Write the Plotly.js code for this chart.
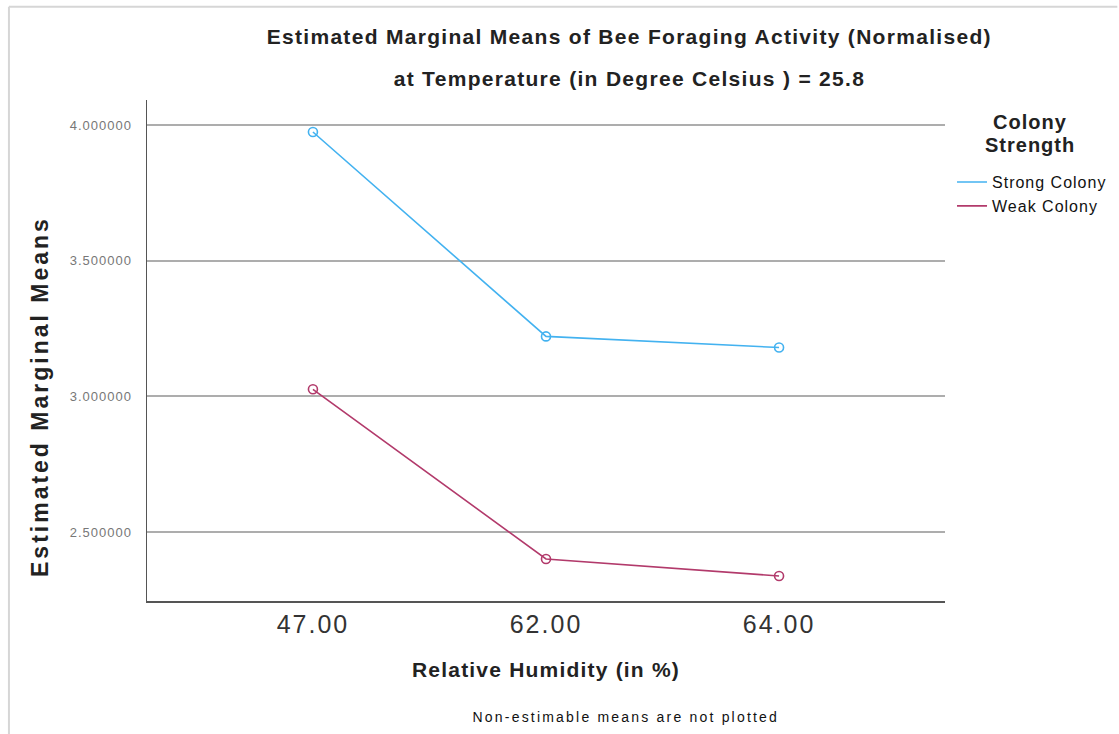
<!DOCTYPE html>
<html>
<head>
<meta charset="utf-8">
<script src="https://cdn.plot.ly/plotly-3.0.1.min.js"></script>
<style>
html,body{margin:0;padding:0;background:#fff;}
#chart{width:1119px;height:734px;}
.annotation[data-index="0"] text, .annotation[data-index="1"] text {letter-spacing:1.3px;}
.annotation[data-index="2"] text, .annotation[data-index="3"] text {letter-spacing:1px;}
.annotation[data-index="4"] text {letter-spacing:2.2px;}
.annotation[data-index="5"] text {letter-spacing:3px;}
text.xtitle {letter-spacing:1.2px;}
g.xtick text {letter-spacing:2px;}
g.ytick text {letter-spacing:1px;}
text.legendtext {letter-spacing:1px;}
</style>
</head>
<body>
<div id="chart"></div>
<script>
const humidity = ["47.00", "62.00", "64.00"];
const strongColony = [3.974, 3.221, 3.180];
const weakColony = [3.026, 2.401, 2.338];
const seriesNames = ["Strong Colony", "Weak Colony"];
const seriesColors = ["#43b2f0", "#b23a6b"];
const yTicks = [2.5, 3.0, 3.5, 4.0];
const yTickLabels = ["2.500000", "3.000000", "3.500000", "4.000000"];

const F = "Arial, 'Liberation Sans', sans-serif";
const seriesValues = [strongColony, weakColony];

const traces = [];
seriesValues.forEach((vals, i) => {
  traces.push({x: humidity, y: vals, name: seriesNames[i], type: "scatter", mode: "lines",
    line: {color: seriesColors[i], width: 1.6}, showlegend: true, legendrank: i + 1});
});
seriesValues.forEach((vals, i) => {
  traces.push({x: humidity, y: vals, name: seriesNames[i], type: "scatter", mode: "markers",
    marker: {symbol: "circle-open", size: 9, color: seriesColors[i], line: {width: 1.6}},
    showlegend: false});
});

const layout = {
  width: 1119, height: 734,
  margin: {l: 147, r: 174, t: 100, b: 133, autoexpand: false},
  paper_bgcolor: "#fff", plot_bgcolor: "#fff",
  showlegend: true,
  font: {family: F, color: "#222"},
  xaxis: {
    type: "category", range: [-0.712, 2.712],
    showgrid: false, zeroline: false, automargin: false,
    showline: true, linecolor: "#555", linewidth: 1.5,
    ticks: "", tickfont: {size: 25, color: "#333", family: F},
    title: {text: "<b>Relative Humidity (in %)</b>", font: {size: 21, color: "#222", family: F}, standoff: 26}
  },
  yaxis: {
    range: [2.246, 4.092], automargin: false,
    tickvals: yTicks, ticktext: yTickLabels,
    showgrid: true, gridcolor: "#adadad", gridwidth: 1.8,
    zeroline: false, showline: true, linecolor: "#555", linewidth: 1.5,
    ticks: "", ticklen: 0, ticklabelstandoff: 11,
    tickfont: {size: 13, color: "#777", family: F}
  },
  legend: {
    x: 1.0088, y: 0.870, xanchor: "left", yanchor: "top",
    font: {size: 16, color: "#111", family: F},
    bgcolor: "rgba(0,0,0,0)", tracegroupgap: 0, itemwidth: 30
  },
  annotations: [
    {text: "<b>Estimated Marginal Means of Bee Foraging Activity (Normalised)</b>", xref: "paper", yref: "paper",
     x: 0.605, y: 1, yshift: 100 - 36, xanchor: "center", yanchor: "middle", showarrow: false,
     font: {size: 21, color: "#222", family: F}},
    {text: "<b>at Temperature (in Degree Celsius ) = 25.8</b>", xref: "paper", yref: "paper",
     x: 0.605, y: 1, yshift: 100 - 78, xanchor: "center", yanchor: "middle", showarrow: false,
     font: {size: 21, color: "#222", family: F}},
    {text: "<b>Colony</b>", xref: "paper", yref: "paper",
     x: 1.107, y: 1, yshift: 100 - 122, xanchor: "center", yanchor: "middle", showarrow: false,
     font: {size: 20, color: "#222", family: F}},
    {text: "<b>Strength</b>", xref: "paper", yref: "paper",
     x: 1.107, y: 1, yshift: 100 - 145, xanchor: "center", yanchor: "middle", showarrow: false,
     font: {size: 20, color: "#222", family: F}},
    {text: "Non-estimable means are not plotted", xref: "paper", yref: "paper",
     x: 0.6, y: 0, yshift: -(717 - 601), xanchor: "center", yanchor: "middle", showarrow: false,
     font: {size: 14, color: "#111", family: F}},
    {text: "<b>Estimated Marginal Means</b>", xref: "paper", yref: "paper", textangle: -90,
     x: 0, xshift: -(147 - 40), y: (601 - 397) / 501, xanchor: "center", yanchor: "middle", showarrow: false,
     font: {size: 23, color: "#222", family: F}}
  ],
  shapes: [
    {type: "line", xref: "paper", yref: "paper", x0: -0.173, x1: 1.216, y0: 1.186, y1: 1.186,
     line: {color: "#d6d6d6", width: 2}},
    {type: "line", xref: "paper", yref: "paper", x0: -0.173, x1: -0.173, y0: 1.186, y1: -0.27,
     line: {color: "#d6d6d6", width: 2}}
  ]
};

Plotly.newPlot("chart", traces, layout, {displayModeBar: false, staticPlot: true});
</script>
</body>
</html>
